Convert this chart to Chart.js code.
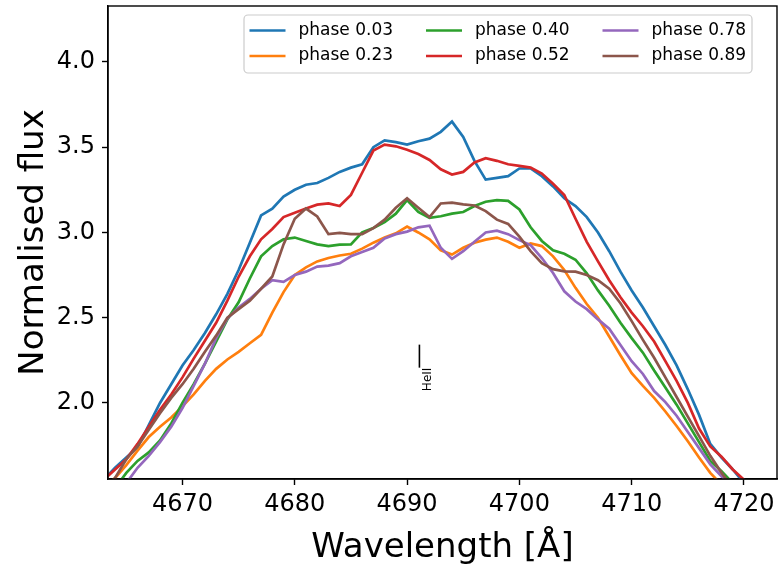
<!DOCTYPE html>
<html>
<head>
<meta charset="utf-8">
<script src="https://cdn.jsdelivr.net/npm/chart.js@4.4.1/dist/chart.umd.min.js"></script>
<style>
  body { margin: 0; background: #fff; }
  #wrap { width: 779px; height: 569px; }
</style>
</head>
<body>
<div id="wrap"><canvas id="myChart" width="779" height="569"></canvas></div>
<script>
// wavelength grid (Angstrom), one reading per Angstrom
const wavelength = [];
for (let w = 4663; w <= 4720; w++) wavelength.push(w);

const phaseLabels = ["phase 0.03", "phase 0.23", "phase 0.40", "phase 0.52", "phase 0.78", "phase 0.89"];
const colores = ["#1f77b4", "#ff7f0e", "#2ca02c", "#d62728", "#9467bd", "#8c564b"];

const flux003 = [1.55, 1.62, 1.68, 1.74, 1.87, 2.00, 2.11, 2.22, 2.31, 2.41, 2.52, 2.64, 2.78, 2.94, 3.10, 3.14, 3.21, 3.25, 3.28, 3.29,
  3.32, 3.355, 3.38, 3.40, 3.50, 3.54, 3.53, 3.515, 3.535, 3.55, 3.59, 3.65, 3.56, 3.42, 3.31, 3.32, 3.33, 3.375, 3.375, 3.33,
  3.27, 3.20, 3.155, 3.09, 3.00, 2.89, 2.77, 2.66, 2.56, 2.45, 2.34, 2.22, 2.08, 1.93, 1.76, 1.68, 1.61, 1.53];
const flux023 = [1.49, 1.56, 1.635, 1.72, 1.80, 1.86, 1.915, 1.98, 2.05, 2.13, 2.20, 2.255, 2.30, 2.35, 2.40, 2.53, 2.65, 2.75, 2.795, 2.83,
  2.85, 2.865, 2.875, 2.905, 2.94, 2.97, 2.995, 3.035, 3.00, 2.96, 2.895, 2.87, 2.91, 2.94, 2.958, 2.97, 2.945, 2.91, 2.935, 2.92,
  2.86, 2.78, 2.675, 2.58, 2.50, 2.39, 2.28, 2.175, 2.10, 2.03, 1.95, 1.865, 1.775, 1.68, 1.59, 1.52, 1.45, 1.40];
const flux040 = [1.40, 1.50, 1.59, 1.66, 1.71, 1.78, 1.88, 2.00, 2.11, 2.23, 2.36, 2.49, 2.59, 2.73, 2.86, 2.92, 2.96, 2.97, 2.95, 2.93,
  2.92, 2.928, 2.93, 3.00, 3.026, 3.06, 3.11, 3.19, 3.12, 3.085, 3.095, 3.11, 3.12, 3.155, 3.18, 3.19, 3.185, 3.135, 3.03, 2.95,
  2.895, 2.875, 2.84, 2.76, 2.66, 2.57, 2.47, 2.38, 2.295, 2.19, 2.09, 1.99, 1.88, 1.77, 1.66, 1.60, 1.53, 1.45];
const flux052 = [1.55, 1.61, 1.67, 1.76, 1.86, 1.96, 2.05, 2.15, 2.26, 2.365, 2.47, 2.60, 2.74, 2.86, 2.96, 3.02, 3.09, 3.115, 3.14, 3.163,
  3.17, 3.155, 3.22, 3.35, 3.48, 3.515, 3.505, 3.485, 3.46, 3.425, 3.37, 3.34, 3.355, 3.41, 3.435, 3.42, 3.40, 3.39, 3.38, 3.345,
  3.285, 3.22, 3.08, 2.945, 2.83, 2.72, 2.62, 2.53, 2.45, 2.36, 2.245, 2.13, 2.00, 1.85, 1.745, 1.685, 1.61, 1.55];
const flux078 = [1.38, 1.45, 1.53, 1.62, 1.69, 1.77, 1.86, 1.97, 2.10, 2.23, 2.38, 2.495, 2.56, 2.61, 2.67, 2.72, 2.71, 2.75, 2.77, 2.80,
  2.805, 2.82, 2.86, 2.885, 2.91, 2.965, 2.99, 3.005, 3.03, 3.04, 2.91, 2.845, 2.89, 2.945, 3.00, 3.01, 2.99, 2.955, 2.925, 2.85,
  2.762, 2.655, 2.595, 2.55, 2.49, 2.435, 2.34, 2.245, 2.17, 2.07, 2.005, 1.925, 1.83, 1.735, 1.64, 1.57, 1.50, 1.44];
const flux089 = [1.50, 1.56, 1.67, 1.745, 1.843, 1.94, 2.03, 2.11, 2.20, 2.30, 2.395, 2.50, 2.55, 2.60, 2.67, 2.742, 2.93, 3.08, 3.14, 3.094,
  2.99, 2.997, 2.99, 2.99, 3.025, 3.075, 3.145, 3.20, 3.145, 3.09, 3.17, 3.175, 3.165, 3.158, 3.125, 3.075, 3.05, 2.975, 2.89, 2.82,
  2.785, 2.772, 2.77, 2.75, 2.72, 2.67, 2.585, 2.48, 2.37, 2.265, 2.15, 2.035, 1.92, 1.805, 1.69, 1.59, 1.50, 1.42];

const seriesFlux = [flux003, flux023, flux040, flux052, flux078, flux089];

const xTicks = [4670, 4680, 4690, 4700, 4710, 4720];
const yTicks = [2.0, 2.5, 3.0, 3.5, 4.0];

// HeII marker (wavelength, flux)
const heMark = { wavelength: 4691.1, top: 2.342, bottom: 2.207, textX: 4691.84, label: "HeII" };

const fuente = '"DejaVu Sans", "Liberation Sans", sans-serif';

const datasets = seriesFlux.map((serie, i) => ({
  label: phaseLabels[i],
  data: serie.map((f, j) => ({ x: wavelength[j], y: f })),
  borderColor: colores[i],
  borderWidth: 2.7,
  pointRadius: 0,
  tension: 0,
  fill: false,
  clip: 0,
  order: seriesFlux.length - i,
}));

const sinPadding = (s) => {
  s.paddingTop = 0; s.paddingBottom = 0; s.paddingLeft = 0; s.paddingRight = 0;
};

const adornos = {
  id: "adornos",
  afterDatasetsDraw(chart) {
    const { ctx, chartArea: a, scales } = chart;
    const x = scales.x, y = scales.y;
    ctx.save();
    // marker line + label
    const mx = x.getPixelForValue(heMark.wavelength);
    ctx.strokeStyle = "#000";
    ctx.lineWidth = 1.6;
    ctx.beginPath();
    ctx.moveTo(mx, y.getPixelForValue(heMark.top));
    ctx.lineTo(mx, y.getPixelForValue(heMark.bottom));
    ctx.stroke();
    ctx.save();
    ctx.translate(x.getPixelForValue(heMark.textX), y.getPixelForValue(heMark.bottom));
    ctx.rotate(-Math.PI / 2);
    ctx.font = "12px " + fuente;
    ctx.fillStyle = "#000";
    ctx.textAlign = "right";
    ctx.textBaseline = "middle";
    ctx.fillText(heMark.label, 0, 0);
    ctx.restore();

    // frame
    ctx.lineWidth = 1.4;
    ctx.strokeRect(a.left, a.top, a.right - a.left, a.bottom - a.top);

    // legend, 3 columns x 2 rows, upper right
    const bw = 508, bh = 58;
    const bx = a.right - 25 - bw, by = a.top + 9;
    ctx.fillStyle = "rgba(255,255,255,0.8)";
    ctx.strokeStyle = "#cccccc";
    ctx.lineWidth = 1.2;
    ctx.beginPath();
    ctx.roundRect(bx, by, bw, bh, 4);
    ctx.fill();
    ctx.stroke();
    ctx.font = "17px " + fuente;
    ctx.textAlign = "left";
    ctx.textBaseline = "middle";
    phaseLabels.forEach((lab, i) => {
      const col = Math.floor(i / 2), row = i % 2;
      const hx = bx + 5.5 + col * 176.5;
      const hy = by + 15.5 + row * 25.5;
      ctx.strokeStyle = colores[i];
      ctx.lineWidth = 2.7;
      ctx.beginPath();
      ctx.moveTo(hx, hy);
      ctx.lineTo(hx + 36, hy);
      ctx.stroke();
      ctx.fillStyle = "#000";
      ctx.fillText(lab, hx + 49, hy);
    });
    ctx.restore();
  },
};

const config = {
  type: "line",
  data: { datasets },
  options: {
    responsive: false,
    animation: false,
    layout: { padding: { top: 6, right: 2, left: 0, bottom: 0 } },
    plugins: { legend: { display: false }, tooltip: { enabled: false } },
    scales: {
      x: {
        type: "linear",
        min: 4663.37,
        max: 4722.94,
        afterFit: (s) => { s.height = 90; sinPadding(s); },
        afterBuildTicks: (s) => { s.ticks = xTicks.map((v) => ({ value: v })); },
        ticks: {
          color: "#000",
          font: { family: fuente, size: 24 },
          padding: 5,
          maxRotation: 0,
          callback: (v) => String(v),
        },
        grid: { display: true, drawOnChartArea: false, drawTicks: true, tickLength: 6, tickColor: "#000", tickWidth: 1.4 },
        border: { display: true, color: "#000", width: 1.4 },
        title: {
          display: true,
          text: "Wavelength [Å]",
          color: "#000",
          font: { family: fuente, size: 34 },
          padding: { top: 0, bottom: 0 },
        },
      },
      y: {
        type: "linear",
        min: 1.554,
        max: 4.328,
        afterFit: (s) => { s.width = 108; sinPadding(s); },
        afterBuildTicks: (s) => { s.ticks = yTicks.map((v) => ({ value: v })); },
        ticks: {
          color: "#000",
          font: { family: fuente, size: 24 },
          padding: 7,
          callback: (v) => v.toFixed(1),
        },
        grid: { display: true, drawOnChartArea: false, drawTicks: true, tickLength: 6, tickColor: "#000", tickWidth: 1.4 },
        border: { display: true, color: "#000", width: 1.4 },
        title: {
          display: true,
          text: "Normalised flux",
          color: "#000",
          font: { family: fuente, size: 34 },
          padding: { top: 14, bottom: 0 },
        },
      },
    },
  },
  plugins: [adornos],
};

const myChart = new Chart(document.getElementById("myChart"), config);
</script>
</body>
</html>
